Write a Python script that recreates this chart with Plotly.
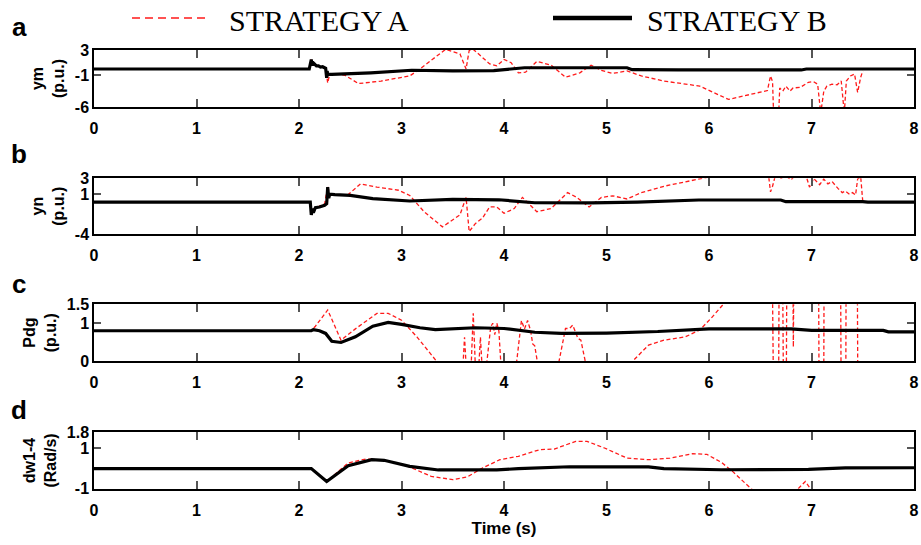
import plotly.graph_objects as go

# ---------------- data ----------------
ym_b_t = [0, 2.10, 2.12, 2.125, 2.13, 2.14, 2.15, 2.17, 2.19, 2.21, 2.23, 2.25, 2.26, 2.27, 2.275, 2.28, 2.29, 2.32, 2.45, 2.7, 3.1, 3.5, 3.9, 4.2, 5.2, 5.25, 5.7, 6.9, 6.95, 8]
ym_b_v = [0, 0, 1.5, 0.5, 1.2, 0.6, 0.8, 0.5, 0.5, 0.3, 0.35, 0.2, 0.1, -1.4, -0.3, -1.0, -0.8, -0.85, -0.8, -0.6, -0.2, -0.3, -0.25, 0.2, 0.2, -0.1, -0.15, -0.15, 0.0, 0.0]

ym_a_t = [0, 2.10, 2.12, 2.15, 2.2, 2.26, 2.28, 2.30, 2.38, 2.45, 2.58, 2.8, 3.08, 3.18, 3.3, 3.43, 3.57, 3.63, 3.66, 3.7, 3.75, 3.79, 3.86, 3.93, 4.0, 4.07, 4.14, 4.21, 4.32, 4.46, 4.6, 4.74, 4.85, 4.95, 5.06, 5.2, 5.34, 5.56, 5.91, 6.19, 6.44, 6.57, 6.6, 6.62, 6.63, 6.68, 6.69, 6.72, 6.75, 6.79, 6.82, 6.89, 6.97, 7.02, 7.06, 7.09, 7.12, 7.15, 7.2, 7.25, 7.29, 7.32, 7.34, 7.38, 7.42, 7.45, 7.48, 7.5]
ym_a_v = [0, 0, 1.5, 0.6, 0.4, 0.1, -2.2, -0.8, -0.8, -1.0, -2.3, -1.9, -1.1, 0.0, 1.5, 3.1, 2.4, 0.0, 2.9, 3.1, 2.4, 1.8, 0.8, 0.5, 1.5, 1.0, -0.6, -0.5, 1.2, 0.6, -1.3, -0.6, 0.6, -0.2, -0.7, -0.3, -1.1, -1.9, -2.7, -4.8, -3.8, -3.4, -1.1, -2.0, -7, -7, -3.0, -3.5, -2.7, -3.5, -3.0, -2.9, -2.1, -2.0, -2.4, -7, -3.5, -2.7, -2.4, -2.5, -1.9, -7, -1.9, -1.1, -0.8, -3.7, -1.3, -0.3]

yn_b_t = [0, 2.11, 2.12, 2.13, 2.14, 2.16, 2.2, 2.25, 2.27, 2.28, 2.29, 2.3, 2.35, 2.5, 2.72, 3.08, 3.5, 3.95, 4.3, 4.85, 5.3, 5.9, 6.7, 6.75, 7.5, 7.55, 8]
yn_b_v = [0, 0, -1.6, -0.8, -1.3, -0.7, -0.6, -0.4, -0.2, 1.9, 0.5, 1.0, 0.95, 0.85, 0.45, 0.15, 0.35, 0.3, -0.07, -0.1, 0.0, 0.27, 0.27, 0.06, 0.06, 0.0, 0.0]

yn_a_t = [0, 2.11, 2.12, 2.14, 2.2, 2.25, 2.28, 2.3, 2.48, 2.6, 2.76, 2.97, 3.08, 3.22, 3.4, 3.57, 3.63, 3.66, 3.72, 3.79, 3.86, 3.93, 4.0, 4.1, 4.18, 4.32, 4.46, 4.62, 4.71, 4.83, 4.95, 5.06, 5.2, 5.34, 5.56, 5.91, 6.0, 6.5, 6.58, 6.6, 6.62, 6.65, 6.7, 6.75, 6.8, 6.85, 6.95, 6.98, 7.0, 7.02, 7.08, 7.12, 7.16, 7.2, 7.26, 7.3, 7.33, 7.37, 7.4, 7.43, 7.45, 7.48, 7.5]
yn_a_v = [0, 0, -1.2, -0.9, -0.5, -0.2, 2.0, 0.9, 0.95, 2.3, 1.9, 1.5, 0.85, -1.2, -3.1, -1.6, 0.6, -3.7, -2.7, -2.0, -0.6, -0.6, -1.4, -0.8, 0.6, -1.2, -0.8, 1.2, 0.6, -0.6, 0.6, 0.8, 0.4, 1.2, 2.0, 3.0, 3.3, 4.5, 3.5, 1.3, 2.0, 3.5, 3.0, 3.3, 2.8, 3.5, 3.2, 1.9, 2.3, 3.0, 2.2, 2.9, 2.3, 2.6, 1.7, 1.2, 1.4, 1.0, 1.2, 0.9, 2.9, 3.2, 0.1]

pdg_b_t = [0, 2.12, 2.14, 2.2, 2.26, 2.32, 2.41, 2.55, 2.72, 2.87, 3.0, 3.18, 3.33, 3.43, 3.72, 4.0, 4.3, 4.56, 5.0, 5.5, 6.0, 6.8, 7.0, 7.7, 7.75, 8]
pdg_b_v = [0.8, 0.8, 0.83, 0.8, 0.73, 0.52, 0.49, 0.64, 0.92, 1.02, 0.97, 0.88, 0.83, 0.84, 0.88, 0.86, 0.76, 0.73, 0.74, 0.78, 0.85, 0.85, 0.81, 0.81, 0.77, 0.77]

pdg_a_t = [0, 2.12, 2.16, 2.28, 2.41, 2.55, 2.76, 2.87, 3.0, 3.15, 3.34, 3.4, 3.60, 3.615, 3.63, 3.68, 3.70, 3.72, 3.755, 3.77, 3.785, 3.83, 3.87, 3.89, 3.91, 3.93, 3.95, 3.97, 4.12, 4.17, 4.2, 4.23, 4.26, 4.28, 4.30, 4.33, 4.53, 4.6, 4.64, 4.67, 4.7, 4.72, 4.75, 4.8, 5.22, 5.41, 5.56, 5.77, 5.91, 6.02, 6.14, 6.2, 6.62, 6.627, 6.68, 6.683, 6.72, 6.725, 6.755, 6.758, 6.82, 6.823, 6.826, 7.07, 7.073, 7.12, 7.122, 7.285, 7.288, 7.335, 7.337, 7.448, 7.451, 7.5]
pdg_a_v = [0.8, 0.8, 0.92, 1.35, 0.55, 0.85, 1.26, 1.26, 1.08, 0.64, 0.0, -0.1, -0.1, 0.63, -0.1, -0.1, 1.26, -0.1, -0.1, 0.63, -0.1, -0.1, 0.9, 1.0, 0.7, 1.0, 0.8, -0.1, -0.1, 1.07, 0.85, 1.07, 0.8, 0.45, 0.4, -0.1, -0.1, 0.86, 0.86, 0.95, 0.75, 0.6, 0.55, -0.1, -0.1, 0.42, 0.55, 0.64, 0.82, 1.13, 1.5, 1.7, 1.7, -0.2, -0.2, 1.7, 1.7, -0.2, -0.2, 1.7, 1.7, 0.37, 1.7, 1.7, -0.2, -0.2, 1.7, 1.7, -0.2, -0.2, 1.7, 1.7, -0.2, -0.2]

dw_b_t = [0, 2.12, 2.27, 2.48, 2.71, 2.83, 3.08, 3.36, 3.93, 4.14, 4.64, 5.41, 5.56, 6.12, 6.97, 7.33, 8]
dw_b_v = [0, 0, -0.64, 0.14, 0.44, 0.41, 0.11, -0.07, -0.07, 0.0, 0.09, 0.08, 0.0, -0.06, -0.04, 0.03, 0.04]

dw_a_t = [0, 2.12, 2.27, 2.48, 2.65, 2.83, 3.08, 3.29, 3.5, 3.64, 3.79, 3.96, 4.14, 4.35, 4.49, 4.7, 4.81, 4.98, 5.2, 5.41, 5.62, 5.84, 5.98, 6.12, 6.23, 6.34, 6.41, 6.5, 6.7, 6.87, 6.94, 6.99, 7.1, 7.5]
dw_a_v = [0, 0, -0.64, 0.28, 0.47, 0.42, 0.08, -0.39, -0.55, -0.42, 0.03, 0.44, 0.61, 0.94, 0.97, 1.35, 1.35, 1.02, 0.52, 0.44, 0.52, 0.74, 0.7, 0.31, -0.14, -0.64, -1.0, -1.3, -1.5, -1.0, -0.64, -1.0, -1.4, -1.8]

panels = [
    dict(tb=ym_b_t, vb=ym_b_v, ta=ym_a_t, va=ym_a_v, rng=[-6, 3], ticks=[-6, -1, 3], tt=["-6", "-1", "3"], title="ym<br>(p.u.)", letter="a"),
    dict(tb=yn_b_t, vb=yn_b_v, ta=yn_a_t, va=yn_a_v, rng=[-4, 3], ticks=[-4, 1, 3], tt=["-4", "1", "3"], title="yn<br>(p.u.)", letter="b"),
    dict(tb=pdg_b_t, vb=pdg_b_v, ta=pdg_a_t, va=pdg_a_v, rng=[0, 1.5], ticks=[0, 1, 1.5], tt=["0", "1", "1.5"], title="Pdg<br>(p.u.)", letter="c"),
    dict(tb=dw_b_t, vb=dw_b_v, ta=dw_a_t, va=dw_a_v, rng=[-1, 1.8], ticks=[-1, 1, 1.8], tt=["-1", "1", "1.8"], title="dw1-4<br>(Rad/s)", letter="d"),
]
x_ticks = [0, 1, 2, 3, 4, 5, 6, 7, 8]
legend_names = ["STRATEGY A", "STRATEGY B"]

# ---------------- layout geometry ----------------
W, H = 921, 545
ML, MR, MT, MB = 94, 7, 50, 56
PW, PH = W - ML - MR, H - MT - MB
panel_px = [(50, 107), (178.3, 234), (304.3, 361), (432.3, 488.7)]
letter_py = [27, 154, 284, 410]

def py2paper(py):
    return 1 - (py - MT) / PH

def px2paper(px):
    return (px - ML) / PW

SANS = "Liberation Sans, Arial, sans-serif"
RED = "#ff1a1a"

fig = go.Figure()
layout = dict(
    width=W, height=H,
    margin=dict(l=ML, r=MR, t=MT, b=MB, autoexpand=False),
    paper_bgcolor="white", plot_bgcolor="white",
    showlegend=False,
    font=dict(family=SANS, color="black"),
)

annotations = []
for i, p in enumerate(panels):
    n = "" if i == 0 else str(i + 1)
    xa, ya = "x" + n, "y" + n
    fig.add_trace(go.Scatter(x=p["ta"], y=p["va"], mode="lines", xaxis=xa, yaxis=ya,
                             line=dict(color=RED, width=1.3, dash="4px,2.5px"), name=legend_names[0]))
    fig.add_trace(go.Scatter(x=p["tb"], y=p["vb"], mode="lines", xaxis=xa, yaxis=ya,
                             line=dict(color="black", width=3.2), name=legend_names[1]))
    top, bot = panel_px[i]
    layout["xaxis" + n] = dict(
        domain=[0, 1], anchor=ya, range=[0, 8], tickvals=x_ticks, ticktext=[str(v) for v in x_ticks],
        showline=True, linecolor="black", linewidth=1.5, mirror="allticks",
        ticks="inside", ticklen=8, tickwidth=1.5, tickcolor="#555",
        tickfont=dict(family=SANS, size=16, weight="bold", color="black"),
        ticklabelstandoff=6, ticklabeloverflow="allow",
        showgrid=False, zeroline=False, automargin=False,
    )
    layout["yaxis" + n] = dict(
        domain=[max(0, py2paper(bot)), py2paper(top)], anchor=xa, range=p["rng"],
        tickvals=p["ticks"], ticktext=p["tt"],
        showline=True, linecolor="black", linewidth=1.5, mirror="allticks",
        ticks="inside", ticklen=7, tickwidth=1.5, tickcolor="#555",
        tickfont=dict(family=SANS, size=16, weight="bold", color="black"),
        ticklabeloverflow="allow",
        title=dict(text=p["title"], font=dict(family=SANS, size=16, weight="bold", color="black"), standoff=6),
        showgrid=False, zeroline=False, automargin=False,
    )
    annotations.append(dict(text=p["letter"], xref="paper", yref="paper", x=px2paper(19), y=py2paper(letter_py[i]),
                            xanchor="center", yanchor="middle", showarrow=False,
                            font=dict(family=SANS, size=26, weight="bold", color="black")))

layout["xaxis4"]["title"] = dict(text="Time (s)", font=dict(family=SANS, size=17, weight="bold", color="black"), standoff=4)

# legend drawn above panel a
leg_y = py2paper(18)
shapes = [
    dict(type="line", xref="paper", yref="paper", x0=px2paper(132), x1=px2paper(210), y0=leg_y, y1=leg_y,
         line=dict(color=RED, width=1.5, dash="8px,5px")),
    dict(type="line", xref="paper", yref="paper", x0=px2paper(553), x1=px2paper(632), y0=leg_y, y1=leg_y,
         line=dict(color="black", width=4.5)),
]
for name, lx in zip(legend_names, [227, 645]):
    annotations.append(dict(text=name, xref="paper", yref="paper", x=px2paper(lx), y=py2paper(21),
                            xanchor="left", yanchor="middle", showarrow=False,
                            font=dict(family="Liberation Serif, Times New Roman, serif", size=30, color="black")))

layout["annotations"] = annotations
layout["shapes"] = shapes
fig.update_layout(**layout)
fig.write_html("out.html", config={"displayModeBar": False},
               post_script="document.body.style.margin='0';")
